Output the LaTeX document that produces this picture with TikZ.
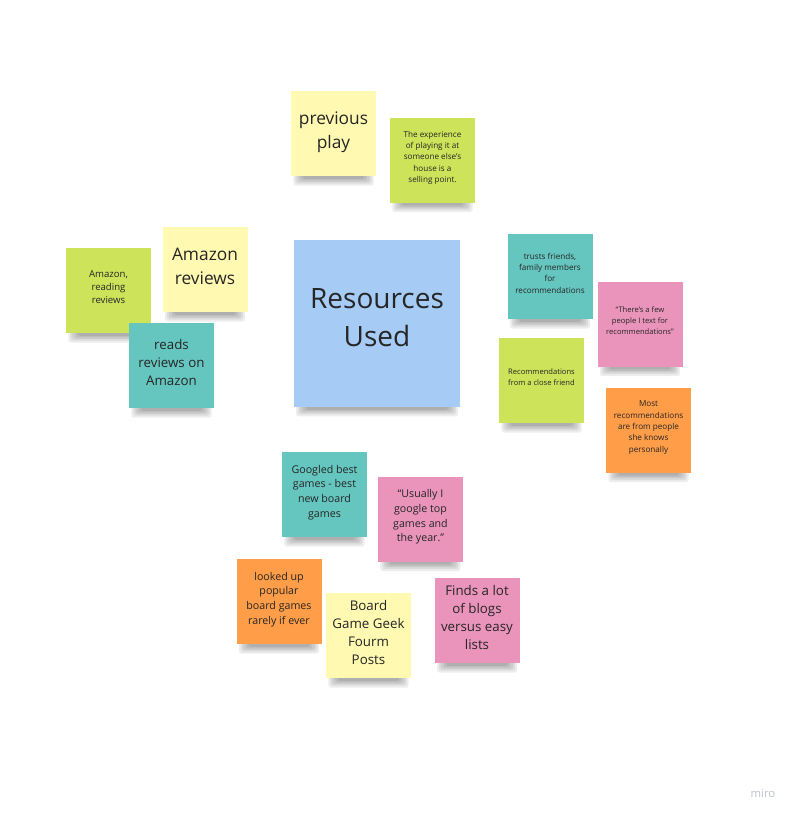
\documentclass[tikz,border=0pt]{standalone}
\usepackage{fontspec}
\setmainfont{Open Sans}
\usetikzlibrary{backgrounds}
\definecolor{noteYellow}{HTML}{FFF9B1}
\definecolor{noteGreen}{HTML}{CCE35A}
\definecolor{noteTeal}{HTML}{65C5BF}
\definecolor{notePink}{HTML}{EA94BB}
\definecolor{noteOrange}{HTML}{FF9D48}
\definecolor{noteBlue}{HTML}{A6CCF5}
\definecolor{inkDark}{HTML}{262626}
\definecolor{miroGray}{HTML}{BFC3CC}

\begin{document}
\begin{tikzpicture}[x=0.75pt,y=-0.75pt,
        every node/.style={align=center,text=inkDark},
        note/.style={inner sep=0pt,minimum width=63.75pt,minimum height=63.75pt,text depth=5pt},
        bignote/.style={note,minimum width=125pt,minimum height=125pt,text depth=9pt},
        shadowpart/.style={fill=black,fill opacity=0.07,rounded corners=2pt},
        hugetxt/.style={font=\fontsize{21}{28.5}\selectfont},
        largetxt/.style={font=\fontsize{13}{18}\selectfont},
        midtxt/.style={font=\fontsize{10}{13.5}\selectfont},
        smalltxt/.style={font=\fontsize{8}{11}\selectfont},
        tinytxt/.style={font=\fontsize{7.2}{10}\selectfont},
        minitxt/.style={font=\fontsize{6.1}{8.5}\selectfont},
        microtxt/.style={font=\fontsize{5.7}{8}\selectfont}]
      \useasboundingbox (0,0) rectangle (794,815);
      % centre
      \node[bignote,fill=noteBlue,hugetxt] (resUsed) at (377,323.5) {Resources\\Used};
      % top
      \node[note,fill=noteYellow,largetxt] (prevPlay) at (333.5,133.5) {previous\\play};
      \node[note,fill=noteGreen,minitxt] (expHouse) at (432.5,160) {The experience\\of playing it at\\someone else's\\house is a\\selling point.};
      % left
      \node[note,fill=noteGreen,tinytxt] (amzRead) at (108.5,290.5) {Amazon,\\reading\\reviews};
      \node[note,fill=noteYellow,largetxt] (amzRev) at (205,269.5) {Amazon\\reviews};
      \node[note,fill=noteTeal,midtxt] (readsRev) at (171.5,365.5) {reads\\reviews on\\Amazon};
      % right
      \node[note,fill=noteTeal,minitxt] (trustsFam) at (550,276.5) {trusts friends,\\family members\\for\\recommendations};
      \node[note,fill=notePink,microtxt] (fewPeople) at (640,324) {“There's a few\\people I text for\\recommendations”};
      \node[note,fill=noteGreen,microtxt] (closeFriend) at (541.5,380.5) {Recommendations\\from a close friend};
      \node[note,fill=noteOrange,minitxt] (mostRec) at (648.5,430) {Most\\recommendations\\are from people\\she knows\\personally};
      % bottom
      \node[note,fill=noteTeal,smalltxt] (googled) at (324.5,494.5) {Googled best\\games - best\\new board\\games};
      \node[note,fill=notePink,smalltxt] (usuallyI) at (420.5,519) {“Usually I\\google top\\games and\\the year.”};
      \node[note,fill=noteOrange,smalltxt] (lookedUp) at (279,601.5) {looked up\\popular\\board games\\rarely if ever};
      \node[note,fill=noteYellow,midtxt] (bggPosts) at (368.5,635.5) {Board\\Game Geek\\Fourm\\Posts};
      \node[note,fill=notePink,midtxt] (blogs) at (477,620.5) {Finds a lot\\of blogs\\versus easy\\lists};
      \node[text=miroGray,font=\fontsize{8.5}{10}\selectfont] (miroMark) at (763,793) {miro};
      % soft shadows under the notes
      \begin{pgfonlayer}{background}
        \fill[white] (0,0) rectangle (794,815);
        \foreach \n in {resUsed,prevPlay,expHouse,amzRead,amzRev,readsRev,trustsFam,fewPeople,
            closeFriend,mostRec,googled,usuallyI,lookedUp,bggPosts,blogs}
          \foreach \a/\d in {2/7,3.5/5.5,5/4.2,7/3,9/2}
            \fill[shadowpart] ([xshift=\a pt,yshift=2pt]\n.south west)
              rectangle ([xshift=-\a pt,yshift=-\d pt]\n.south east);
      \end{pgfonlayer}
\end{tikzpicture}
\end{document}
